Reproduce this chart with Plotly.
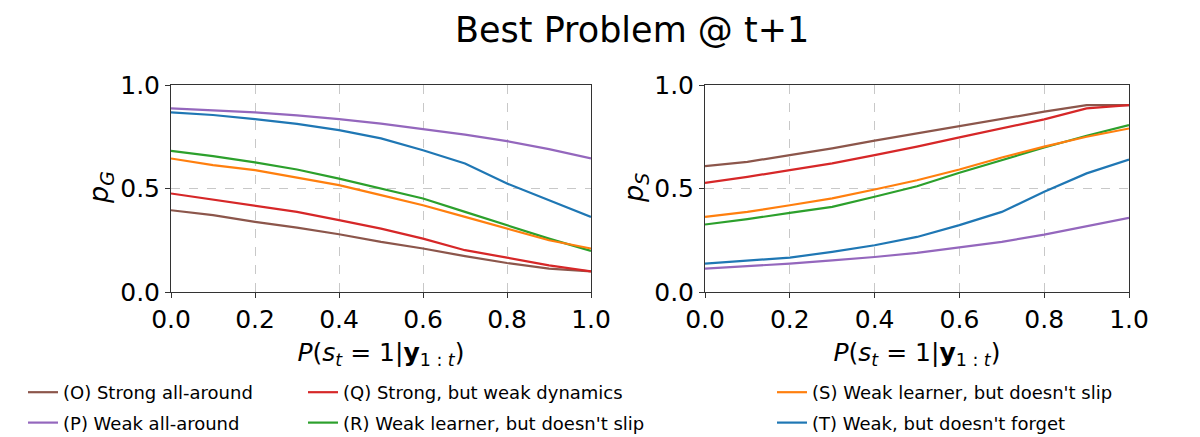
import plotly.graph_objects as go

x_vals = [0.0, 0.1, 0.2, 0.3, 0.4, 0.5, 0.6, 0.7, 0.8, 0.9, 1.0]

series_names = [
    "(O) Strong all-around",
    "(P) Weak all-around",
    "(Q) Strong, but weak dynamics",
    "(R) Weak learner, but doesn't slip",
    "(S) Weak learner, but doesn't slip",
    "(T) Weak, but doesn't forget",
]
series_colors = ["#8c564b", "#9467bd", "#d62728", "#2ca02c", "#ff7f0e", "#1f77b4"]

# left panel: p_G
pG_O = [0.395, 0.371, 0.339, 0.311, 0.279, 0.242, 0.210, 0.173, 0.140, 0.113, 0.100]
pG_P = [0.887, 0.879, 0.868, 0.853, 0.835, 0.813, 0.787, 0.760, 0.729, 0.690, 0.645]
pG_Q = [0.476, 0.447, 0.419, 0.387, 0.347, 0.306, 0.258, 0.202, 0.166, 0.129, 0.100]
pG_R = [0.682, 0.656, 0.626, 0.592, 0.548, 0.500, 0.452, 0.387, 0.323, 0.258, 0.198]
pG_S = [0.645, 0.613, 0.589, 0.553, 0.516, 0.468, 0.419, 0.363, 0.306, 0.250, 0.210]
pG_T = [0.868, 0.855, 0.835, 0.812, 0.782, 0.742, 0.685, 0.621, 0.524, 0.444, 0.363]

# right panel: p_S
pS_O = [0.608, 0.629, 0.661, 0.694, 0.731, 0.766, 0.802, 0.839, 0.871, 0.903, 0.903]
pS_P = [0.113, 0.124, 0.137, 0.153, 0.169, 0.189, 0.215, 0.242, 0.277, 0.318, 0.358]
pS_Q = [0.527, 0.556, 0.589, 0.621, 0.661, 0.702, 0.747, 0.790, 0.834, 0.887, 0.903]
pS_R = [0.326, 0.352, 0.382, 0.411, 0.460, 0.511, 0.576, 0.637, 0.698, 0.755, 0.806]
pS_S = [0.363, 0.387, 0.419, 0.452, 0.495, 0.540, 0.592, 0.650, 0.702, 0.750, 0.790]
pS_T = [0.137, 0.150, 0.166, 0.194, 0.226, 0.266, 0.323, 0.387, 0.484, 0.573, 0.640]

left_series = [pG_O, pG_P, pG_Q, pG_R, pG_S, pG_T]
right_series = [pS_O, pS_P, pS_Q, pS_R, pS_S, pS_T]
legend_ids = ["legend", "legend", "legend2", "legend2", "legend3", "legend3"]

x_ticks = [0.0, 0.2, 0.4, 0.6, 0.8, 1.0]
y_ticks = [0.0, 0.5, 1.0]

FONT = "DejaVu Sans"
fig = go.Figure()

for i in range(6):
    fig.add_trace(go.Scatter(
        x=x_vals, y=left_series[i], mode="lines", name=series_names[i],
        line=dict(color=series_colors[i], width=2.2),
        xaxis="x", yaxis="y", legend=legend_ids[i], legendgroup=f"g{i}",
    ))
for i in range(6):
    fig.add_trace(go.Scatter(
        x=x_vals, y=right_series[i], mode="lines", name=series_names[i],
        line=dict(color=series_colors[i], width=2.2),
        xaxis="x2", yaxis="y2", showlegend=False,
    ))

W, H = 1200, 437
def fx(px):
    return px / W
def fy(py):
    return 1 - py / H

xtitle = "<i>P</i>(<i>s</i><sub><i>t</i></sub> = 1|<b>y</b><sub>1 : <i>t</i></sub>)"

axis_common = dict(
    showline=True, mirror=True, linecolor="#333333", linewidth=1,
    ticks="outside", ticklen=5, tickcolor="#333333",
    showgrid=True, gridcolor="#c8c8c8", griddash="dash", gridwidth=1,
    zeroline=False, tickfont=dict(family=FONT, size=25, color="black"),
    range=[0, 1], automargin=False,
)

ytitle_font = dict(family=FONT, size=27, color="black")

fig.update_layout(
    width=W, height=H,
    margin=dict(l=0, r=0, t=0, b=0, autoexpand=False),
    paper_bgcolor="white", plot_bgcolor="white",
    font=dict(family=FONT, color="black"),
    xaxis=dict(domain=[fx(171), fx(591)], anchor="y", tickvals=x_ticks, tickformat=".1f",
               title=dict(text=xtitle, font=dict(size=25), standoff=10), **axis_common),
    yaxis=dict(domain=[fy(292), fy(85)], anchor="x", tickvals=y_ticks, tickformat=".1f",
               **axis_common),
    xaxis2=dict(domain=[fx(705), fx(1129)], anchor="y2", tickvals=x_ticks, tickformat=".1f",
                title=dict(text=xtitle, font=dict(size=25), standoff=10), **axis_common),
    yaxis2=dict(domain=[fy(292), fy(85)], anchor="x2", tickvals=y_ticks, tickformat=".1f",
                **axis_common),
    annotations=[
        dict(text="Best Problem @ t+1", x=fx(632), y=fy(30), xref="paper", yref="paper",
             showarrow=False, font=dict(family=FONT, size=35, color="black"),
             xanchor="center", yanchor="middle"),
        dict(text="<i>p</i><sub><i>G</i></sub>", x=fx(101), y=fy(188), xref="paper", yref="paper",
             showarrow=False, font=ytitle_font, textangle=-90, xanchor="center", yanchor="middle"),
        dict(text="<i>p</i><sub><i>S</i></sub>", x=fx(636), y=fy(188), xref="paper", yref="paper",
             showarrow=False, font=ytitle_font, textangle=-90, xanchor="center", yanchor="middle"),
    ],
)

leg_common = dict(orientation="v", yanchor="top", xanchor="left", y=fy(374),
                  font=dict(family=FONT, size=18, color="black"), bgcolor="rgba(0,0,0,0)",
                  tracegroupgap=4, traceorder="grouped")
fig.update_layout(
    legend=dict(x=fx(23), **leg_common),
    legend2=dict(x=fx(303), **leg_common),
    legend3=dict(x=fx(772), **leg_common),
)

fig.write_html("out.html")
